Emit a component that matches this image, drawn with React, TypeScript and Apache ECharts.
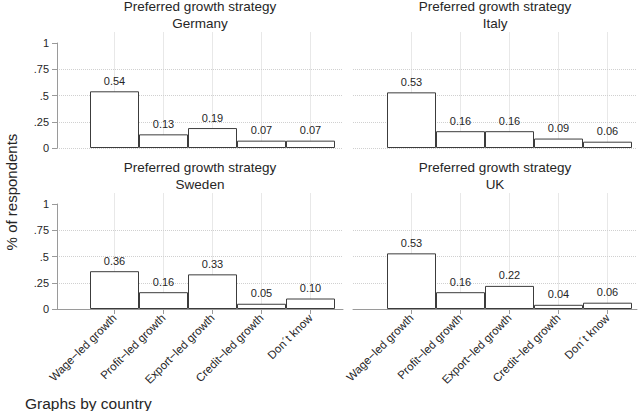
import React, { useEffect, useRef } from "react";
import * as echarts from "echarts";

const categories = ["Wage−led growth", "Profit−led growth", "Export−led growth", "Credit−led growth", "Don´t know"];
const countries = ["Germany", "Italy", "Sweden", "UK"];
const germany = [0.54, 0.13, 0.19, 0.07, 0.07];
const italy = [0.53, 0.16, 0.16, 0.09, 0.06];
const sweden = [0.36, 0.16, 0.33, 0.05, 0.1];
const uk = [0.53, 0.16, 0.22, 0.04, 0.06];
const yTicks = [0, 0.25, 0.5, 0.75, 1];
const yTickLabels = ["0", ".25", ".5", ".75", "1"];
const panelTitle = "Preferred growth strategy";
const yTitle = "% of respondents";
const note = "Graphs by country";

const FONT = "Liberation Sans, Arial, sans-serif";
const TEXT = "#262626";
const AXIS = "#9a9a9a";
const GRID = "#d0d0d0";

export default function App() {
  const ref = useRef<HTMLDivElement>(null);
  useEffect(() => {
    if (!ref.current) return;
    const chart = echarts.init(ref.current, undefined, { renderer: "svg" });
    const values = [germany, italy, sweden, uk];
    const cols = [
      { plotLeft: 57, plotWidth: 286, barLeft: 90 },
      { plotLeft: 353, plotWidth: 284, barLeft: 387 },
    ];
    const rows = [{ zeroY: 148 }, { zeroY: 309 }];
    const unit = 105;
    const band = 49;
    const grids: any[] = [];
    const xAxes: any[] = [];
    const yAxes: any[] = [];
    const series: any[] = [];
    const graphics: any[] = [];
    countries.forEach((name, i) => {
      const c = cols[i % 2];
      const r = rows[Math.floor(i / 2)];
      const isBottom = i >= 2;
      const isLeft = i % 2 === 0;
      grids.push({ left: c.plotLeft, width: c.plotWidth, top: r.zeroY - unit, height: unit, containLabel: false });
      grids.push({
        left: c.barLeft + band / 2,
        width: band * 4,
        top: r.zeroY - unit * 1.1,
        height: unit * 1.1,
        containLabel: false,
      });
      xAxes.push({
        gridIndex: 2 * i,
        type: "value",
        min: 0,
        max: 1,
        axisLine: { show: isBottom, lineStyle: { color: AXIS, width: 1 } },
        axisTick: { show: false },
        axisLabel: { show: false },
        splitLine: { show: false },
      });
      xAxes.push({
        gridIndex: 2 * i + 1,
        type: "category",
        data: categories,
        boundaryGap: false,
        axisLine: { show: false },
        axisTick: { show: isBottom, length: 5, lineStyle: { color: AXIS } },
        axisLabel: {
          show: isBottom,
          interval: 0,
          rotate: 45,
          margin: 7,
          fontSize: 11.5,
          fontFamily: FONT,
          color: TEXT,
        },
        splitLine: { show: true, lineStyle: { color: GRID, type: "dotted", width: 1 } },
      });
      yAxes.push({
        gridIndex: 2 * i,
        type: "value",
        min: 0,
        max: 1,
        interval: 0.25,
        axisLine: { show: isLeft, lineStyle: { color: AXIS, width: 1 } },
        axisTick: { show: isLeft, length: 5, lineStyle: { color: AXIS } },
        axisLabel: {
          show: isLeft,
          margin: 8,
          fontSize: 11,
          fontFamily: FONT,
          color: TEXT,
          formatter: (v: number) => {
            const k = yTicks.findIndex((t) => Math.abs(t - v) < 1e-9);
            return k >= 0 ? yTickLabels[k] : "";
          },
        },
        splitLine: { show: true, showMaxLine: false, lineStyle: { color: GRID, type: "dotted", width: 1 } },
      });
      yAxes.push({
        gridIndex: 2 * i + 1,
        type: "value",
        min: 0,
        max: 1.1,
        show: false,
        splitLine: { show: false },
      });
      series.push({
        type: "bar",
        xAxisIndex: 2 * i + 1,
        yAxisIndex: 2 * i + 1,
        data: values[i],
        barWidth: "100%",
        clip: false,
        z: 3,
        itemStyle: { color: "#ffffff", borderColor: "#3c3c3c", borderWidth: 1 },
        label: {
          show: true,
          position: "top",
          distance: 5,
          fontSize: 11,
          fontFamily: FONT,
          color: TEXT,
          formatter: (p: any) => Number(p.value).toFixed(2),
        },
      });
      const cx = c.plotLeft + c.plotWidth / 2;
      const ty = isBottom ? 167 : 6;
      graphics.push({
        type: "text",
        x: cx,
        y: ty,
        style: { text: panelTitle, fontSize: 13.5, fontFamily: FONT, fill: TEXT, textAlign: "center", textVerticalAlign: "middle" },
      });
      graphics.push({
        type: "text",
        x: cx,
        y: ty + 17.5,
        style: { text: name, fontSize: 13.5, fontFamily: FONT, fill: TEXT, textAlign: "center", textVerticalAlign: "middle" },
      });
    });
    graphics.push({
      type: "text",
      x: 11,
      y: 192,
      rotation: Math.PI / 2,
      style: { text: yTitle, fontSize: 15, fontFamily: FONT, fill: TEXT, textAlign: "center", textVerticalAlign: "middle" },
    });
    graphics.push({
      type: "text",
      x: 25,
      y: 403,
      style: { text: note, fontSize: 15.5, fontFamily: FONT, fill: TEXT, textAlign: "left", textVerticalAlign: "middle" },
    });
    chart.setOption({
      animation: false,
      backgroundColor: "#ffffff",
      grid: grids,
      xAxis: xAxes,
      yAxis: yAxes,
      series,
      graphic: graphics,
    });
    return () => chart.dispose();
  }, []);
  return <div ref={ref} style={{ position: "fixed", left: 0, top: 0, width: 640, height: 411 }} />;
}
